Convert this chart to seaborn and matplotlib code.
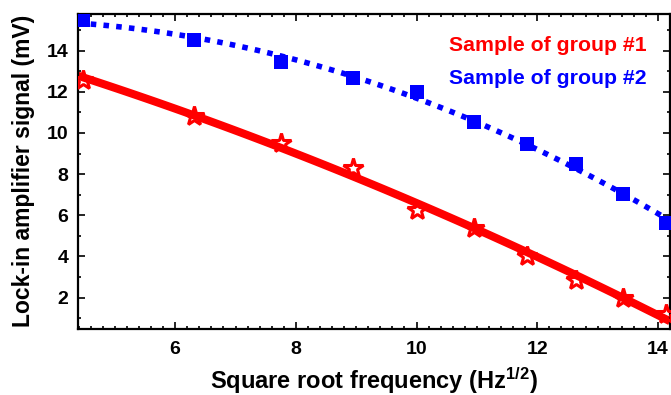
import numpy as np
import pandas as pd
import seaborn as sns
import matplotlib
matplotlib.use("Agg")
import matplotlib.pyplot as plt
from matplotlib.lines import Line2D
from matplotlib.ticker import MultipleLocator

# ---- data ----
sqrt_freq = [4.47, 6.32, 7.75, 8.94, 10.00, 10.95, 11.83, 12.65, 13.42, 14.14]
group1 = [12.58, 10.83, 9.50, 8.30, 6.27, 5.38, 4.00, 2.87, 1.98, 1.22]
group2 = [15.49, 14.52, 13.44, 12.69, 12.00, 10.55, 9.47, 8.47, 7.03, 5.65]
series_labels = ["Sample of group #1", "Sample of group #2"]
x_ticks = [6, 8, 10, 12, 14]
y_ticks = [2, 4, 6, 8, 10, 12, 14]

df1 = pd.DataFrame({"x": sqrt_freq, "y": group1})
df2 = pd.DataFrame({"x": sqrt_freq, "y": group2})

sns.set_style("ticks")
plt.rcParams["font.family"] = ["Liberation Sans", "DejaVu Sans"]
plt.rcParams["font.weight"] = "bold"
plt.rcParams["mathtext.fontset"] = "custom"
plt.rcParams["mathtext.rm"] = "Liberation Sans:bold"
plt.rcParams["mathtext.default"] = "rm"
for k in ["text.color", "axes.labelcolor", "xtick.color", "ytick.color", "axes.edgecolor"]:
    plt.rcParams[k] = "black"

fig = plt.figure(figsize=(6.71, 3.95), dpi=100)
ax = fig.add_axes([78 / 671, 1 - 328.5 / 395, (670 - 78) / 671, (328.5 - 14) / 395])
ax.set_xlim(4.39, 14.2)
ax.set_ylim(0.5, 15.78)

# fit curves (computed by seaborn)
sns.regplot(data=df1, x="x", y="y", order=2, ci=None, scatter=False, truncate=False,
            ax=ax, line_kws=dict(color="#ff0000", lw=5.8, solid_capstyle="butt"))
sns.regplot(data=df2, x="x", y="y", order=2, ci=None, scatter=False, truncate=False,
            ax=ax, line_kws=dict(color="#0000ff", lw=4.0, dashes=(1.0, 1.3)))

# data markers
ax.plot(df1["x"], df1["y"], linestyle="none", marker="*", markersize=15,
        markerfacecolor="none", markeredgecolor="#ff0000", markeredgewidth=2.2, zorder=5)
sns.scatterplot(data=df2, x="x", y="y", marker="s", s=95, color="#0000ff",
                edgecolor="#0000ff", linewidth=0, ax=ax, zorder=5)

ax.set_xlim(4.39, 14.2)
ax.set_ylim(0.5, 15.78)
ax.set_xticks(x_ticks)
ax.set_yticks(y_ticks)
ax.xaxis.set_minor_locator(MultipleLocator(0.2))
ax.yaxis.set_minor_locator(MultipleLocator(1))
ax.tick_params(which="both", direction="in", top=True, right=True, width=1.2, color="black")
ax.tick_params(which="major", length=5, labelsize=14, pad=7, labelcolor="black")
ax.tick_params(which="minor", length=2.5)
ax.tick_params(axis="x", which="major", pad=9)
for lab in ax.get_xticklabels() + ax.get_yticklabels():
    lab.set_fontweight("bold")
for sp in ax.spines.values():
    sp.set_visible(True)
    sp.set_linewidth(1.6)
    sp.set_color("black")

ax.set_xlabel("Square root frequency (Hz$^{1/2}$)", fontsize=17, fontweight="bold",
              labelpad=5, color="black")
ax.set_ylabel("Lock-in amplifier signal (mV)", fontsize=16.5, fontweight="bold",
              labelpad=8, color="black")

handles = [Line2D([], [], linestyle="none") for _ in series_labels]
leg = ax.legend(handles, series_labels, loc="upper right", bbox_to_anchor=(0.992, 0.99),
                frameon=False, handlelength=0, handletextpad=0, labelspacing=0.64,
                labelcolor=["#ff0000", "#0000ff"],
                prop=dict(family="Liberation Sans", weight="bold", size=15.3))

fig.savefig("out.png", dpi=100)
